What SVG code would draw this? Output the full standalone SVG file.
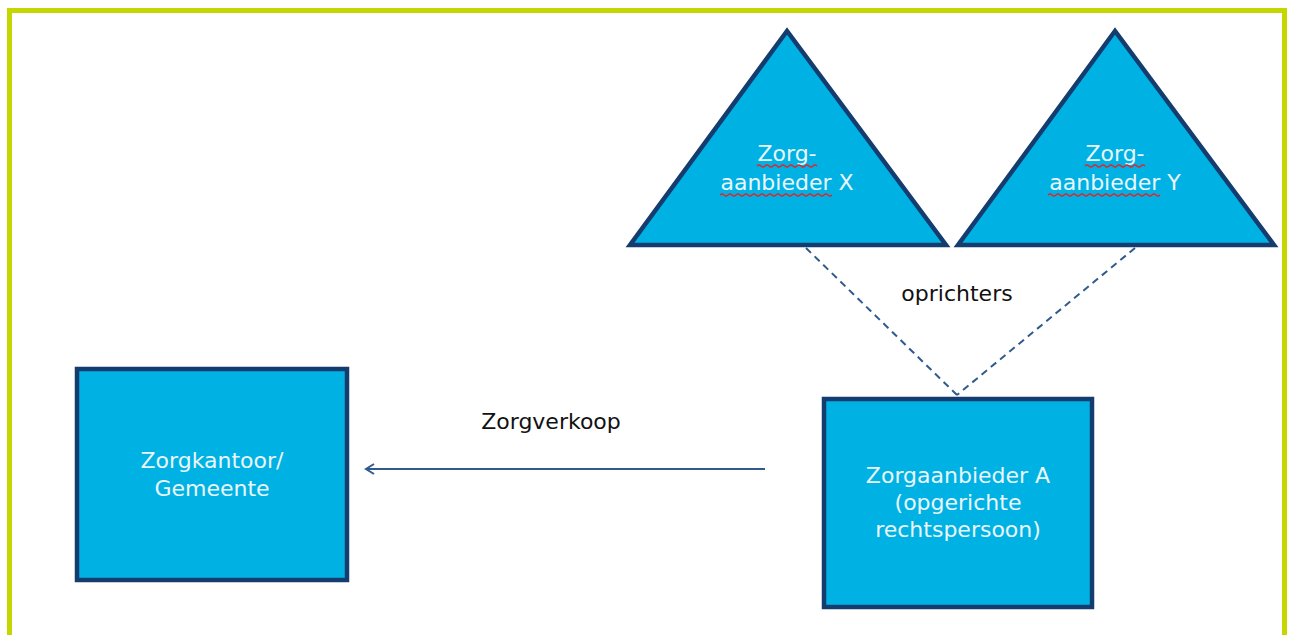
<svg xmlns="http://www.w3.org/2000/svg" width="1290" height="635" viewBox="0 0 1290 635">
<defs>
<style>
.shape{fill:#00B2E3;stroke:#143C6E;stroke-width:4.5;stroke-linejoin:miter}
.wt{font-family:"DejaVu Sans","Liberation Sans",sans-serif;font-size:22px;fill:#EAF6FB;text-anchor:middle}
.bt{font-family:"DejaVu Sans","Liberation Sans",sans-serif;font-size:22px;fill:#111;text-anchor:middle}
.dash{stroke:#2F5A8C;stroke-width:2;stroke-dasharray:7,5;fill:none}
.sq{fill:none;stroke:#E0262A;stroke-width:1.2}
</style>
<marker id="arr" markerWidth="12" markerHeight="12" refX="10" refY="6" orient="auto" markerUnits="userSpaceOnUse">
<path d="M2,1 L10,6 L2,11" fill="none" stroke="#2F5A8C" stroke-width="2"/>
</marker>
</defs>
<rect x="0" y="0" width="1290" height="635" fill="#fff"/>
<rect x="9.5" y="10.5" width="1275" height="640" fill="none" stroke="#C5D600" stroke-width="5"/>
<g id="connectors">
<line class="dash" x1="806" y1="248" x2="957" y2="395"/>
<line class="dash" x1="1135" y1="248" x2="957" y2="395"/>
<line x1="765" y1="469" x2="366" y2="469" stroke="#2F5A8C" stroke-width="2.2" marker-end="url(#arr)"/>
<text class="bt" x="957" y="301">oprichters</text>
<text class="bt" x="551" y="429">Zorgverkoop</text>
</g>
<g id="triX">
<polygon class="shape" points="787,31 630,245 946,245"/>
<text class="wt" x="787" y="161">Zorg-</text>
<text class="wt" x="787" y="190">aanbieder X</text>
<path class="sq" d="M757,166 q2,-2 4,0 t4,0 t4,0 t4,0 t4,0 t4,0 t4,0 t4,0 t4,0 t4,0 t4,0 t4,0 t4,0 t4,0 t4,0"/>
<path class="sq" d="M720,195 q2,-2 4,0 t4,0 t4,0 t4,0 t4,0 t4,0 t4,0 t4,0 t4,0 t4,0 t4,0 t4,0 t4,0 t4,0 t4,0 t4,0 t4,0 t4,0 t4,0 t4,0 t4,0 t4,0 t4,0 t4,0 t4,0 t4,0 t4,0 t4,0"/>
</g>
<g id="triY">
<polygon class="shape" points="1115,31 958,245 1274,245"/>
<text class="wt" x="1115" y="161">Zorg-</text>
<text class="wt" x="1115" y="190">aanbieder Y</text>
<path class="sq" d="M1085,166 q2,-2 4,0 t4,0 t4,0 t4,0 t4,0 t4,0 t4,0 t4,0 t4,0 t4,0 t4,0 t4,0 t4,0 t4,0 t4,0"/>
<path class="sq" d="M1048,195 q2,-2 4,0 t4,0 t4,0 t4,0 t4,0 t4,0 t4,0 t4,0 t4,0 t4,0 t4,0 t4,0 t4,0 t4,0 t4,0 t4,0 t4,0 t4,0 t4,0 t4,0 t4,0 t4,0 t4,0 t4,0 t4,0 t4,0 t4,0 t4,0"/>
</g>
<g id="zorgkantoor">
<rect class="shape" x="77" y="369" width="270" height="211"/>
<text class="wt" x="212" y="468">Zorgkantoor/</text>
<text class="wt" x="212" y="496">Gemeente</text>
</g>
<g id="zorgaanbiederA">
<rect class="shape" x="824" y="399" width="268" height="208"/>
<text class="wt" x="958" y="483">Zorgaanbieder A</text>
<text class="wt" x="958" y="510">(opgerichte</text>
<text class="wt" x="958" y="537">rechtspersoon)</text>
</g>
</svg>
